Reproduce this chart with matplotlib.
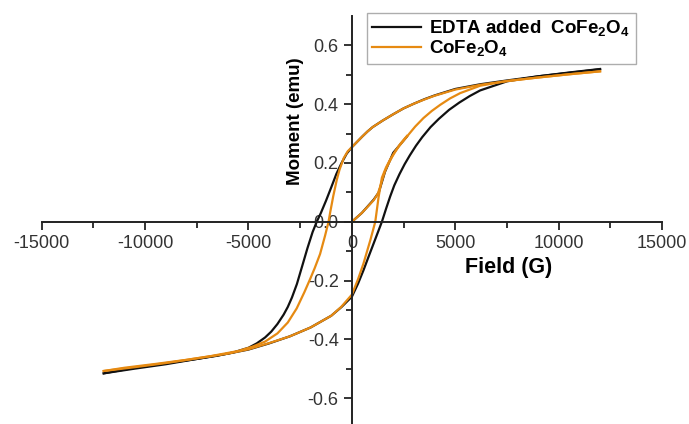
import matplotlib
matplotlib.use('Agg')
import matplotlib.pyplot as plt

plt.rcParams['font.family'] = ['Liberation Sans', 'DejaVu Sans']
plt.rcParams['mathtext.fontset'] = 'custom'
plt.rcParams['mathtext.rm'] = 'Liberation Sans'
plt.rcParams['mathtext.bf'] = 'Liberation Sans:bold'
plt.rcParams['axes.unicode_minus'] = False

# EDTA added CoFe2O4 (black)
edta_desc_h = [12000, 10500, 9000, 7500, 6200, 5000, 4000, 3500, 3000, 2500, 2000, 1500, 1000, 750, 500, 250, 0,
               -250, -500, -750, -1000, -1250, -1500, -1700, -1900, -2150, -2400, -2660, -2900,
               -3100, -3300, -3600, -3900, -4200, -4600, -5000, -5700, -6500, -7500, -9000, -10500, -12000]
edta_desc_m = [0.519, 0.507, 0.495, 0.481, 0.468, 0.452, 0.430, 0.417, 0.402, 0.386, 0.366, 0.345, 0.322, 0.307, 0.290, 0.272, 0.254,
               0.232, 0.200, 0.163, 0.117, 0.072, 0.030, 0.0, -0.035, -0.090, -0.150, -0.212, -0.258,
               -0.290, -0.316, -0.348, -0.374, -0.394, -0.414, -0.429, -0.444, -0.456, -0.467, -0.482, -0.497, -0.516]
edta_asc_h = [-12000, -10500, -9000, -7500, -6000, -5000, -4000, -3000, -2000, -1000, -500, 0,
              300, 560, 800, 1050, 1250, 1450, 1650, 1850, 2050, 2300, 2550, 2800, 3100, 3400, 3800, 4200,
              4700, 5200, 5700, 6200, 7500, 9000, 10500, 12000]
edta_asc_m = [-0.516, -0.500, -0.485, -0.467, -0.449, -0.435, -0.414, -0.390, -0.360, -0.320, -0.290, -0.255,
              -0.210, -0.165, -0.120, -0.074, -0.037, 0.0, 0.044, 0.086, 0.124, 0.162, 0.196, 0.226, 0.259, 0.288, 0.322, 0.350,
              0.381, 0.406, 0.428, 0.447, 0.478, 0.495, 0.508, 0.520]
edta_init_h = [0, 480, 1050, 1300, 1600, 2000, 2660]
edta_init_m = [0, 0.030, 0.075, 0.100, 0.170, 0.235, 0.290]

# CoFe2O4 (orange)
cofe_desc_h = [12000, 10500, 9000, 7500, 6200, 5000, 4000, 3500, 3000, 2500, 2000, 1500, 1000, 750, 500, 250, 0,
               -200, -400, -600, -730, -900, -1050, -1130, -1300, -1540, -1800, -2020,
               -2300, -2670, -3100, -3600, -4200, -4800, -5500, -6800, -8000, -9500, -11000, -12000]
cofe_desc_m = [0.512, 0.502, 0.491, 0.479, 0.466, 0.450, 0.429, 0.416, 0.402, 0.386, 0.366, 0.345, 0.322, 0.307, 0.290, 0.272, 0.254,
               0.240, 0.216, 0.177, 0.143, 0.088, 0.032, 0.0, -0.048, -0.110, -0.158, -0.195,
               -0.240, -0.295, -0.343, -0.380, -0.408, -0.425, -0.440, -0.457, -0.470, -0.484, -0.497, -0.508]
cofe_asc_h = [-12000, -10500, -9000, -7500, -6000, -5000, -4000, -3000, -2000, -1000, -520, 0,
              300, 560, 890, 1130, 1290, 1450, 1650, 1850, 2250, 2660, 3060, 3460, 3860, 4270, 4750, 5240, 6200,
              7500, 9000, 10500, 12000]
cofe_asc_m = [-0.508, -0.495, -0.481, -0.465, -0.449, -0.434, -0.413, -0.390, -0.360, -0.320, -0.290, -0.248,
              -0.195, -0.142, -0.063, 0.0, 0.084, 0.150, 0.185, 0.212, 0.255, 0.290, 0.324, 0.353, 0.377, 0.398, 0.420, 0.438, 0.463,
              0.479, 0.491, 0.502, 0.512]
cofe_init_h = [0, 480, 1050, 1250, 1370, 1600, 1770, 2050, 2350, 2660]
cofe_init_m = [0, 0.030, 0.073, 0.095, 0.120, 0.172, 0.198, 0.235, 0.266, 0.292]

black = '#111111'
orange = '#E68A12'

fig = plt.figure(figsize=(6.89, 4.24), dpi=100)
ax = fig.add_axes([0.0605, -0.008, 0.9005, 0.970])

lw = 1.6
ax.plot(edta_desc_h, edta_desc_m, color=black, lw=lw, label='EDTA added  CoFe$_\\mathbf{2}$O$_\\mathbf{4}$')
ax.plot(edta_asc_h, edta_asc_m, color=black, lw=lw)
ax.plot(edta_init_h, edta_init_m, color=black, lw=lw)
ax.plot(cofe_desc_h, cofe_desc_m, color=orange, lw=lw, label='CoFe$_\\mathbf{2}$O$_\\mathbf{4}$')
ax.plot(cofe_asc_h, cofe_asc_m, color=orange, lw=lw)
ax.plot(cofe_init_h, cofe_init_m, color=orange, lw=lw)

ax.set_xlim(-15000, 15000)
ax.set_ylim(-0.7, 0.7)
ax.spines['left'].set_position(('data', 0))
ax.spines['bottom'].set_position(('data', 0))
ax.spines['top'].set_visible(False)
ax.spines['right'].set_visible(False)
for s in ['left', 'bottom']:
    ax.spines[s].set_linewidth(1.4)
    ax.spines[s].set_color('#222222')

ax.set_xticks([-15000, -10000, -5000, 0, 5000, 10000, 15000])
ax.set_xticks(range(-12500, 15000, 5000), minor=True)
ax.set_yticks([-0.6, -0.4, -0.2, 0.0, 0.2, 0.4, 0.6])
ax.set_yticklabels(['-0.6', '-0.4', '-0.2', '0.0', '0.2', '0.4', '0.6'])
ax.set_yticks([-0.5, -0.3, -0.1, 0.1, 0.3, 0.5], minor=True)
ax.tick_params(which='major', direction='out', length=6, width=1.4, labelsize=13, colors='#333333')
ax.tick_params(which='minor', direction='out', length=4, width=1.4, colors='#333333')

fig.text(296/689, 1 - 121/424, 'Moment (emu)', rotation=90, fontsize=13.5, fontweight='bold',
         ha='center', va='center')
fig.text(509/689, 1 - 268/424, 'Field (G)', fontsize=15.5, fontweight='bold',
         ha='center', va='center')

leg = ax.legend(loc='upper left', bbox_to_anchor=(367/689, 1 - 13/424), bbox_transform=fig.transFigure,
                prop={'weight': 'bold', 'size': 13.5}, fancybox=False, edgecolor='#999999',
                handlelength=2.6, handletextpad=0.45, labelspacing=0.02, borderpad=0.28,
                borderaxespad=0)
leg.get_frame().set_linewidth(1.0)

fig.savefig('out.png', dpi=100)
